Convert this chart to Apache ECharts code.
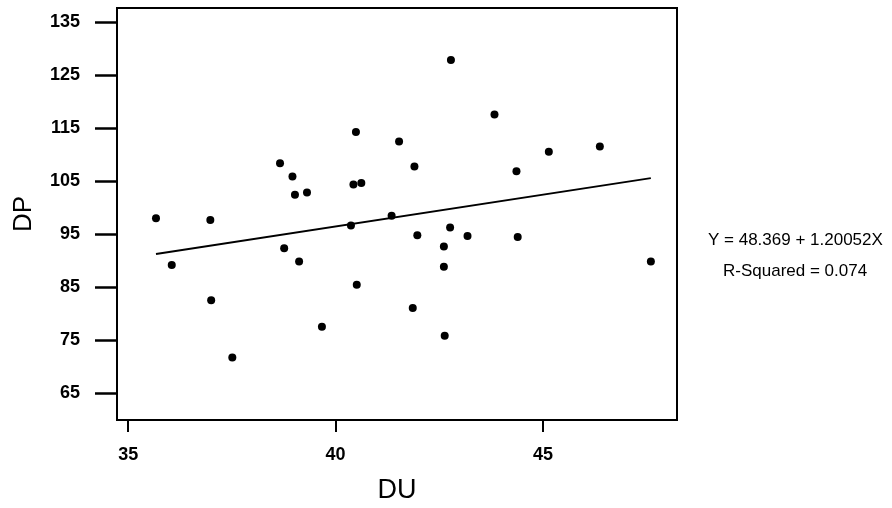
<!DOCTYPE html>
<html>
<head>
<meta charset="utf-8">
<script src="https://cdn.jsdelivr.net/npm/echarts@6/dist/echarts.min.js"></script>
<style>
  html, body { margin: 0; padding: 0; background: #fff; }
  #chart { width: 892px; height: 508px; }
</style>
</head>
<body>
<div id="chart"></div>
<script>
  // DU (x) and DP (y)
  const duValues = [35.67, 36.05, 36.98, 37.0, 37.51, 38.66, 38.76, 38.96, 39.02, 39.12, 39.31, 39.67,
    40.37, 40.43, 40.49, 40.51, 40.62, 41.35, 41.53, 41.86, 41.9, 41.97, 42.61, 42.61, 42.63,
    42.76, 42.78, 43.18, 43.83, 44.36, 44.39, 45.14, 46.37, 47.6]
  const dpValues = [97.96, 89.15, 97.6, 82.5, 71.7, 108.3, 92.3, 105.8, 102.4, 89.8, 102.8, 77.5,
    96.6, 104.3, 114.2, 85.4, 104.6, 98.4, 112.4, 81.0, 107.7, 94.75, 92.6, 88.8, 75.8,
    96.2, 127.8, 94.6, 117.5, 106.8, 94.4, 110.5, 111.5, 89.8]

  // fitted line as printed on the chart
  const intercept = 48.369
  const slope = 1.20052
  const equationText = 'Y = 48.369 + 1.20052X'
  const rSquaredText = 'R-Squared = 0.074'

  const xTicks = [35, 40, 45]
  const yTicks = [65, 75, 85, 95, 105, 115, 125, 135]

  const points = duValues.map((x, i) => [x, dpValues[i]])
  const xFrom = Math.min(...duValues)
  const xTo = Math.max(...duValues)
  const fitLine = [[xFrom, intercept + slope * xFrom], [xTo, intercept + slope * xTo]]

  const chart = echarts.init(document.getElementById('chart'))
  const option = {
    backgroundColor: '#fff',
    animation: false,
    grid: {
      left: 117,
      top: 8,
      right: 215,
      bottom: 88,
      outerBoundsMode: 'none',
      show: true,
      borderColor: '#000',
      borderWidth: 2
    },
    xAxis: {
      type: 'value',
      min: 34.73,
      max: 48.23,
      name: 'DU',
      nameLocation: 'middle',
      nameGap: 57,
      nameTextStyle: { fontFamily: 'Liberation Sans', fontSize: 27, color: '#000' },
      axisLine: { show: true, lineStyle: { color: '#000', width: 2 } },
      axisTick: { show: true, customValues: xTicks, length: 12, lineStyle: { color: '#000', width: 2 } },
      axisLabel: {
        customValues: xTicks,
        margin: 26,
        fontFamily: 'Liberation Sans',
        fontWeight: 'bold',
        fontSize: 18,
        color: '#000'
      },
      splitLine: { show: false }
    },
    yAxis: {
      type: 'value',
      min: 59.9,
      max: 137.6,
      name: 'DP',
      nameLocation: 'middle',
      nameGap: 80,
      nameRotate: 90,
      nameTextStyle: { fontFamily: 'Liberation Sans', fontSize: 26, color: '#000' },
      axisLine: { show: true, lineStyle: { color: '#000', width: 2 } },
      axisTick: { show: true, customValues: yTicks, length: 22, lineStyle: { color: '#000', width: 2.5 } },
      axisLabel: {
        customValues: yTicks,
        margin: 37,
        fontFamily: 'Liberation Sans',
        fontWeight: 'bold',
        fontSize: 18,
        color: '#000'
      },
      splitLine: { show: false }
    },
    series: [
      {
        type: 'scatter',
        data: points,
        symbol: 'circle',
        symbolSize: 8,
        itemStyle: { color: '#000', opacity: 1 }
      },
      {
        type: 'line',
        data: fitLine,
        symbol: 'none',
        lineStyle: { color: '#000', width: 2 }
      }
    ],
    graphic: [
      {
        type: 'text',
        left: 708,
        top: 232,
        style: { text: equationText, font: '17px "Liberation Sans"', fill: '#000' }
      },
      {
        type: 'text',
        left: 723,
        top: 263,
        style: { text: rSquaredText, font: '17px "Liberation Sans"', fill: '#000' }
      }
    ]
  }
  chart.setOption(option)
</script>
</body>
</html>
